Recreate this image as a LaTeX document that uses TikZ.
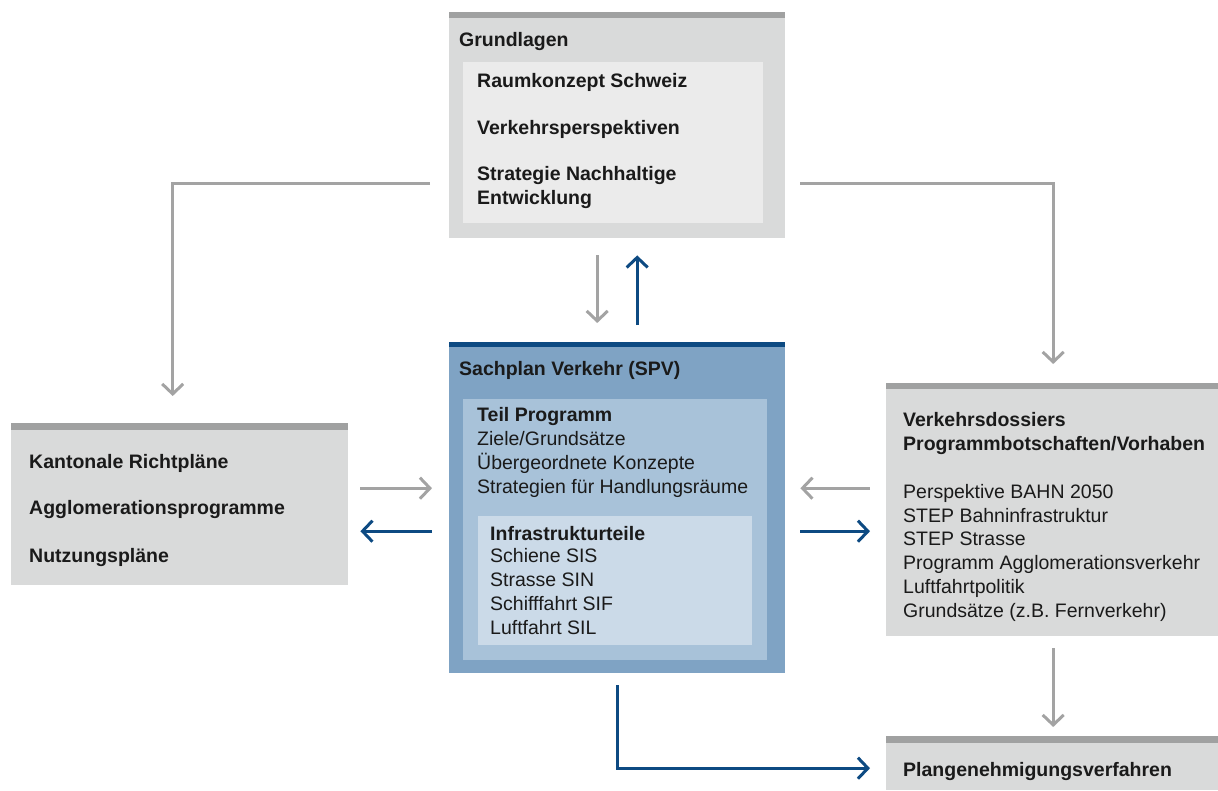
\documentclass[tikz,border=0pt]{standalone}
\usepackage{fontspec}
\setmainfont{Liberation Sans}
\usetikzlibrary{arrows.meta,calc}

\definecolor{boxgray}{HTML}{D9DADA}
\definecolor{bargray}{HTML}{A0A1A1}
\definecolor{innergray}{HTML}{EBEBEB}
\definecolor{spvblue}{HTML}{7FA3C4}
\definecolor{teilblue}{HTML}{A8C2D9}
\definecolor{infrablue}{HTML}{CBDAE8}
\definecolor{darkblue}{HTML}{0D4A82}
\definecolor{arrowgray}{HTML}{A3A3A3}
\definecolor{textblack}{HTML}{1A1A1A}

\tikzset{
  panel/.style={fill=#1, draw=none, inner sep=0, anchor=north west},
  % base of a multi-line label = baseline of its last line
  label/.style={inner sep=0, anchor=base west, align=left, text=textblack,
    font=\fontsize{19.5}{23.7}\selectfont},
  head/.style={label, font=\fontsize{19.5}{23.7}\selectfont\bfseries},
  grayarrow/.style={draw=arrowgray, line width=3pt,
    -{Straight Barb[length=10pt,width=21pt,line width=3pt]}},
  bluearrow/.style={grayarrow, draw=darkblue},
}

\begin{document}
\begin{tikzpicture}[x=1pt,y=-1pt]
\useasboundingbox (0,0) rectangle (1218,790);

% Grundlagen
\node[panel=boxgray, minimum width=336, minimum height=226] (grund) at (449,12) {};
\fill[bargray] (grund.north west) rectangle ($(grund.north east)+(0,6)$);
\node[panel=innergray, minimum width=300, minimum height=161] (gbasis) at (463,62) {};
\node[head] (grundtitle) at (459,46) {Grundlagen};
\node[head] (raum) at (477,87) {Raumkonzept Schweiz};
\node[head] (persp) at (477,134) {Verkehrsperspektiven};
\node[head] (strat) at (477,204) {Strategie Nachhaltige\\Entwicklung};

% Sachplan Verkehr
\node[panel=spvblue, minimum width=336, minimum height=331] (spv) at (449,342) {};
\fill[darkblue] (spv.north west) rectangle ($(spv.north east)+(0,5)$);
\node[panel=teilblue, minimum width=304, minimum height=261] (teil) at (463,399) {};
\node[panel=infrablue, minimum width=274, minimum height=129] (infra) at (478,516) {};
\node[head] (spvtitle) at (459,375) {Sachplan Verkehr (SPV)};
\node[head] (teiltitle) at (477,421) {Teil Programm};
\node[label] (teiltext) at (477,493) {Ziele/Grunds\"atze\\\"Ubergeordnete Konzepte\\Strategien f\"ur Handlungsr\"aume};
\node[head] (infratitle) at (490,540) {Infrastrukturteile};
\node[label] (infratext) at (490,634) {Schiene SIS\\Strasse SIN\\Schifffahrt SIF\\Luftfahrt SIL};

% Kantone
\node[panel=boxgray, minimum width=337, minimum height=162] (links) at (11,423) {};
\fill[bargray] (links.north west) rectangle ($(links.north east)+(0,7)$);
\node[head] (kant) at (29,468) {Kantonale Richtpl\"ane};
\node[head] (agglo) at (29,514) {Agglomerationsprogramme};
\node[head] (nutz) at (29,562) {Nutzungspl\"ane};

% Verkehrsdossiers
\node[panel=boxgray, minimum width=332, minimum height=253] (dossier) at (886,383) {};
\fill[bargray] (dossier.north west) rectangle ($(dossier.north east)+(0,6)$);
\node[head] (dostitle) at (903,450) {Verkehrsdossiers\\Programmbotschaften/Vorhaben};
\node[label] (dostext) at (903,617) {Perspektive BAHN 2050\\STEP Bahninfrastruktur\\STEP Strasse\\Programm Agglomerationsverkehr\\Luftfahrtpolitik\\Grunds\"atze (z.B. Fernverkehr)};

% Plangenehmigung
\node[panel=boxgray, minimum width=332, minimum height=54] (pgv) at (886,736) {};
\fill[bargray] (pgv.north west) rectangle ($(pgv.north east)+(0,7)$);
\node[head] (pgvtitle) at (903,776) {Plangenehmigungsverfahren};

% connectors
\draw[grayarrow] ($(grund.west)+(-19,58)$) -| ($(links.north)+(-7,-27)$);
\draw[grayarrow] ($(grund.east)+(15,58)$) -| ($(dossier.north)+(1,-19)$);
\draw[grayarrow] ($(grund.south)+(-20,17)$) -- ($(spv.north)+(-20,-19)$);
\draw[bluearrow] ($(spv.north)+(20,-17)$) -- ($(grund.south)+(20,17)$);
\draw[grayarrow] ($(links.east)+(12,-16)$) -- ($(spv.west)+(-17,-19.5)$);
\draw[bluearrow] ($(spv.west)+(-17,23.5)$) -- ($(links.east)+(12,27)$);
\draw[grayarrow] ($(dossier.west)+(-16,-21.5)$) -- ($(spv.east)+(15,-19.5)$);
\draw[bluearrow] ($(spv.east)+(15,23.5)$) -- ($(dossier.west)+(-16,21.5)$);
\draw[grayarrow] ($(dossier.south)+(1,12)$) -- ($(pgv.north)+(1,-9)$);
\draw[bluearrow] ($(spv.south)+(0,12)$) |- ($(pgv.west)+(-16,5)$);
\end{tikzpicture}
\end{document}
